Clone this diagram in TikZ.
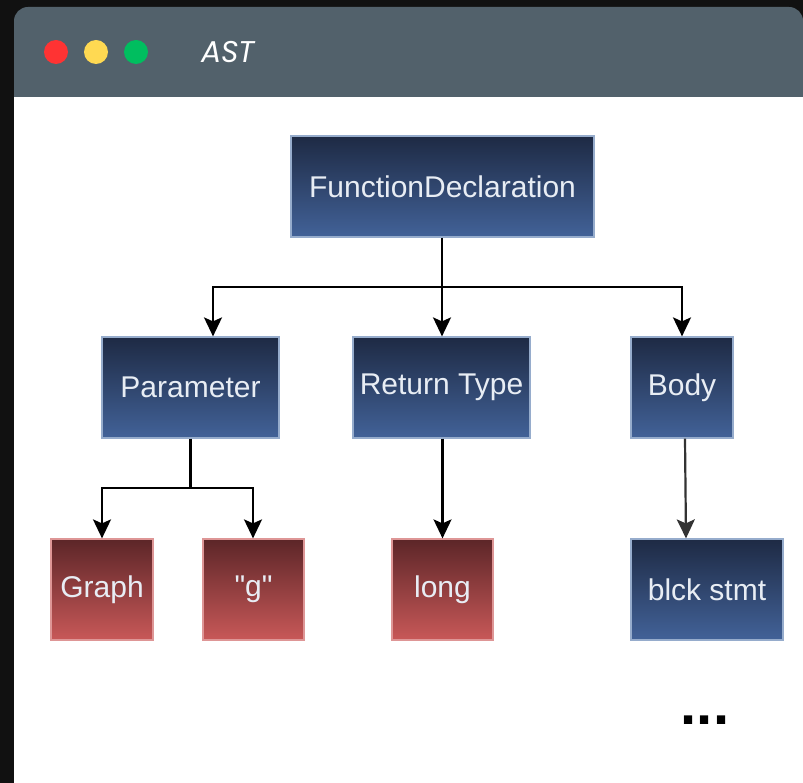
\documentclass[tikz,border=0pt]{standalone}
\usepackage{fontspec}
\setmainfont{Liberation Sans}[Ligatures=TeXOff]
\newfontfamily\titlefont{Poppins}
\usetikzlibrary{arrows.meta}

\definecolor{pagebg}{RGB}{17,17,17}
\definecolor{barbg}{RGB}{82,97,107}
\definecolor{dotred}{RGB}{255,51,51}
\definecolor{dotyellow}{RGB}{255,217,82}
\definecolor{dotgreen}{RGB}{0,190,95}
\definecolor{navytop}{RGB}{30,42,68}
\definecolor{navybot}{RGB}{66,98,152}
\definecolor{navyedge}{RGB}{150,172,204}
\definecolor{redtop}{RGB}{92,38,40}
\definecolor{redbot}{RGB}{200,88,88}
\definecolor{rededge}{RGB}{222,150,150}
\definecolor{boxtext}{RGB}{232,237,244}

\tikzset{
  box/.style={rectangle, inner sep=0pt, minimum height=101pt, line width=1.2pt,
    font=\fontsize{30}{36}\selectfont, text=boxtext},
  bluebox/.style={box, draw=navyedge, top color=navytop, bottom color=navybot},
  redbox/.style={box, draw=rededge, top color=redtop, bottom color=redbot},
  link/.style={line width=2.2pt, draw=black},
  arr/.style={link, -{Stealth[length=19pt,width=18pt,inset=4pt]}},
}

\begin{document}
\begin{tikzpicture}[x=1pt,y=-1pt]
  \useasboundingbox (0,0) rectangle (803,783);
  % window frame
  \fill[pagebg] (0,0) rectangle (803,783);
  \fill[white] (14,97) rectangle (803,783);
  \fill[barbg] (14,97) {[rounded corners=14pt] -- (14,7) -- (803,7)} -- (803,97) -- cycle;
  \fill[dotred] (56,52) circle[radius=12];
  \fill[dotyellow] (96,52) circle[radius=12];
  \fill[dotgreen] (136,52) circle[radius=12];
  \node[anchor=west, text=white, font=\titlefont\itshape\fontsize{30}{36}\selectfont, inner sep=0pt] (title) at (201,52) {AST};

  % tree nodes
  \node[bluebox, minimum width=303pt] (fd) at (442.5,186.5) {FunctionDeclaration};
  \node[bluebox, minimum width=177pt] (par) at (190.5,387.5) {Parameter};
  \node[bluebox, minimum width=177pt] (ret) at (441.5,387.5) {Return Type};
  \node[bluebox, minimum width=102pt] (body) at (682,387.5) {Body};
  \node[redbox, minimum width=102pt] (graph) at (102,589.5) {Graph};
  \node[redbox, minimum width=101pt] (gstr) at (253.5,589.5) {"g"};
  \node[redbox, minimum width=101pt] (lng) at (442.5,589.5) {long};
  \node[bluebox, minimum width=152pt] (blck) at (707,589.5) {blck stmt};
  \node[font=\bfseries\fontsize{58}{60}\selectfont, inner sep=0pt, anchor=base] (more) at (705,724) {...};

  % connectors
  \coordinate (hub) at (442,287);
  \draw[link] ([xshift=-0.5pt]fd.south) -- (hub);
  \draw[arr] (hub) -| ([xshift=22.5pt]par.north);
  \draw[arr] (hub) -- (hub |- ret.north);
  \draw[arr] (hub) -| (body.north);

  \coordinate (hub2) at (190.5,488);
  \draw[link] (par.south) -- (hub2);
  \draw[arr] (hub2) -| (graph.north);
  \draw[arr] (hub2) -| ([xshift=-0.5pt]gstr.north);

  \draw[arr] ([xshift=1pt]ret.south) -- (lng.north);
  \draw[arr, draw=black!80] ([xshift=3pt]body.south) -- ([xshift=-21pt]blck.north);
\end{tikzpicture}
\end{document}
